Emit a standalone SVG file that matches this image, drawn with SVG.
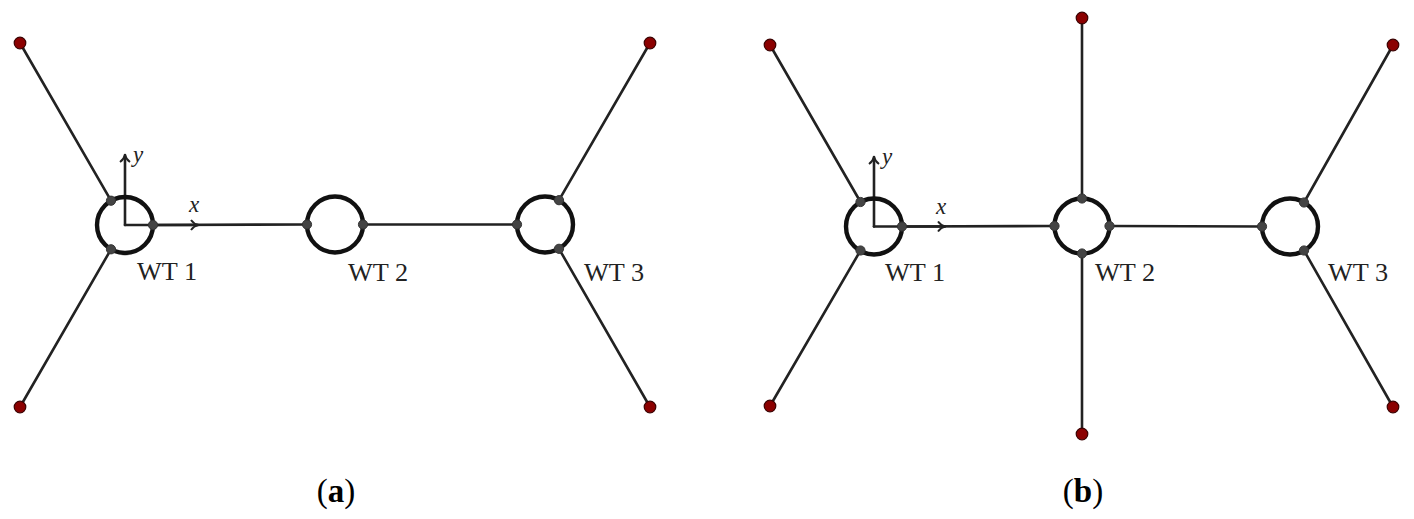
<svg xmlns="http://www.w3.org/2000/svg" width="1414" height="519" viewBox="0 0 1414 519">
<defs>
<style>
.ln{stroke:#222;stroke-width:2.6;fill:none;stroke-linecap:round}
.ring{stroke:#111;stroke-width:4.4;fill:none}
.port{fill:#444;stroke:#333;stroke-width:1}
.end{fill:#8b0000;stroke:#3a0000;stroke-width:1.2}
.lbl{font-family:"Liberation Serif","DejaVu Serif",serif;font-size:25px;fill:#222}
.ax{font-family:"Liberation Serif","DejaVu Serif",serif;font-size:23px;font-style:italic;fill:#222}
.cap{font-family:"Liberation Serif","Times New Roman",serif;font-size:33px;fill:#000;text-anchor:middle}
</style>
<marker id="arr" markerUnits="userSpaceOnUse" markerWidth="14" markerHeight="14" refX="9" refY="6" orient="auto">
<path d="M2,1 Q5,5 9,6 Q5,7 2,11" fill="none" stroke="#222" stroke-width="2"/>
</marker>
</defs>
<rect width="1414" height="519" fill="#fff"/>

<!-- connectors -->
<g id="connectors">
<!-- panel a -->
<line class="ln" x1="111" y1="200.7" x2="20" y2="43"/>
<line class="ln" x1="111" y1="249.3" x2="20" y2="407"/>
<line class="ln" x1="153" y1="225" x2="307" y2="224.5"/>
<line class="ln" x1="363" y1="224.5" x2="517" y2="224.5"/>
<line class="ln" x1="559" y1="200.2" x2="650" y2="43"/>
<line class="ln" x1="559" y1="248.8" x2="650" y2="407"/>
<line class="ln" x1="125" y1="225" x2="125" y2="155" marker-end="url(#arr)"/>
<line class="ln" x1="125" y1="225" x2="198" y2="225" marker-end="url(#arr)"/>
<!-- panel b -->
<line class="ln" x1="860.5" y1="202" x2="770" y2="45"/>
<line class="ln" x1="860.5" y1="250.5" x2="770" y2="406"/>
<line class="ln" x1="902" y1="226.5" x2="1054" y2="226"/>
<line class="ln" x1="1109.5" y1="226" x2="1262" y2="226.5"/>
<line class="ln" x1="1082" y1="198" x2="1082" y2="18"/>
<line class="ln" x1="1082" y1="254" x2="1082" y2="434"/>
<line class="ln" x1="1304" y1="202.5" x2="1393" y2="45"/>
<line class="ln" x1="1304" y1="250.5" x2="1393" y2="407"/>
<line class="ln" x1="874" y1="226.5" x2="874" y2="157" marker-end="url(#arr)"/>
<line class="ln" x1="874" y1="226.5" x2="945" y2="226.5" marker-end="url(#arr)"/>
</g>

<!-- panel a nodes -->
<g id="a-wt1">
<circle class="ring" cx="125" cy="225" r="28"/>
<circle class="port" cx="111" cy="200.7" r="4.6"/>
<circle class="port" cx="111" cy="249.3" r="4.6"/>
<circle class="port" cx="153" cy="225" r="4.6"/>
<text class="lbl" x="137" y="280" textLength="60" lengthAdjust="spacingAndGlyphs">WT 1</text>
<text class="ax" x="133" y="162">y</text>
<text class="ax" x="189" y="212">x</text>
</g>
<g id="a-wt2">
<circle class="ring" cx="335" cy="224.5" r="28"/>
<circle class="port" cx="307" cy="224.5" r="4.6"/>
<circle class="port" cx="363" cy="224.5" r="4.6"/>
<text class="lbl" x="348" y="281" textLength="60" lengthAdjust="spacingAndGlyphs">WT 2</text>
</g>
<g id="a-wt3">
<circle class="ring" cx="545" cy="224.5" r="28"/>
<circle class="port" cx="517" cy="224.5" r="4.6"/>
<circle class="port" cx="559" cy="200.2" r="4.6"/>
<circle class="port" cx="559" cy="248.8" r="4.6"/>
<text class="lbl" x="584" y="281" textLength="60" lengthAdjust="spacingAndGlyphs">WT 3</text>
</g>
<g id="a-ends">
<circle class="end" cx="20" cy="43" r="5.8"/>
<circle class="end" cx="20" cy="407" r="5.8"/>
<circle class="end" cx="650" cy="43" r="5.8"/>
<circle class="end" cx="650" cy="407" r="5.8"/>
</g>

<!-- panel b nodes -->
<g id="b-wt1">
<circle class="ring" cx="874" cy="226.5" r="28"/>
<circle class="port" cx="860.5" cy="202" r="4.6"/>
<circle class="port" cx="860.5" cy="250.5" r="4.6"/>
<circle class="port" cx="902" cy="226.5" r="4.6"/>
<text class="lbl" x="885" y="281" textLength="60" lengthAdjust="spacingAndGlyphs">WT 1</text>
<text class="ax" x="882" y="164">y</text>
<text class="ax" x="936" y="214">x</text>
</g>
<g id="b-wt2">
<circle class="ring" cx="1082" cy="226" r="27.5"/>
<circle class="port" cx="1082" cy="198.5" r="4.6"/>
<circle class="port" cx="1082" cy="253.5" r="4.6"/>
<circle class="port" cx="1054.5" cy="226" r="4.6"/>
<circle class="port" cx="1109.5" cy="226" r="4.6"/>
<text class="lbl" x="1095" y="281" textLength="60" lengthAdjust="spacingAndGlyphs">WT 2</text>
</g>
<g id="b-wt3">
<circle class="ring" cx="1290" cy="226.5" r="28"/>
<circle class="port" cx="1262" cy="226.5" r="4.6"/>
<circle class="port" cx="1304" cy="202.5" r="4.6"/>
<circle class="port" cx="1304" cy="250.5" r="4.6"/>
<text class="lbl" x="1328" y="281" textLength="60" lengthAdjust="spacingAndGlyphs">WT 3</text>
</g>
<g id="b-ends">
<circle class="end" cx="770" cy="45" r="5.8"/>
<circle class="end" cx="770" cy="406" r="5.8"/>
<circle class="end" cx="1082" cy="18" r="5.8"/>
<circle class="end" cx="1082" cy="434" r="5.8"/>
<circle class="end" cx="1393" cy="45" r="5.8"/>
<circle class="end" cx="1393" cy="407" r="5.8"/>
</g>

<g id="captions">
<text class="cap" x="336" y="502">(<tspan font-weight="bold">a</tspan>)</text>
<text class="cap" x="1083" y="502">(<tspan font-weight="bold">b</tspan>)</text>
</g>
</svg>
